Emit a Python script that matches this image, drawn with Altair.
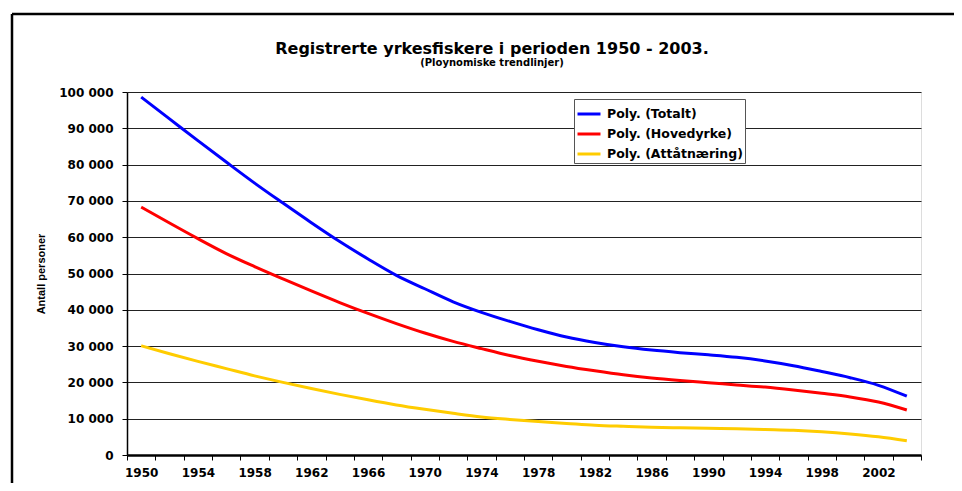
import altair as alt
import pandas as pd

# ---- data (polynomial trend lines, every 2nd year) ----
years = list(range(1950, 2005, 2))
totalt = [98.6, 92.6, 86.6, 80.7, 74.9, 69.4, 64.0, 58.8, 54.0, 49.5, 45.8, 42.2, 39.3, 36.8,
          34.5, 32.5, 31.0, 29.8, 28.9, 28.2, 27.6, 26.9, 25.9, 24.6, 23.0, 21.3, 19.2, 16.2]
hovedyrke = [68.3, 63.9, 59.6, 55.5, 51.9, 48.5, 45.2, 42.0, 39.0, 36.2, 33.6, 31.3, 29.3, 27.4,
             25.8, 24.4, 23.2, 22.1, 21.2, 20.5, 19.9, 19.3, 18.7, 17.9, 17.0, 16.0, 14.6, 12.4]
attaatnaering = [30.1, 27.9, 25.8, 23.8, 21.8, 20.0, 18.3, 16.7, 15.2, 13.8, 12.6, 11.5, 10.5, 9.8,
                 9.2, 8.7, 8.2, 7.9, 7.65, 7.5, 7.35, 7.2, 7.0, 6.8, 6.4, 5.8, 5.0, 3.9]
series_labels = ["Poly. (Totalt)", "Poly. (Hovedyrke)", "Poly. (Attåtnæring)"]
series_colors = ["#0000FF", "#FF0000", "#FFCC00"]
y_ticks = list(range(0, 100001, 10000))
x_tick_years = list(range(1949, 2006))
title_text = "Registrerte yrkesfiskere i perioden 1950 - 2003."
subtitle_text = "(Ploynomiske trendlinjer)"

rows = []
for label, vals in zip(series_labels, [totalt, hovedyrke, attaatnaering]):
    for yr, v in zip(years, vals):
        rows.append({"year": yr, "value": v * 1000, "serie": label})
df = pd.DataFrame(rows)

FONT = "DejaVu Sans"

lines = alt.Chart(df).mark_line(strokeWidth=3, interpolate="monotone").encode(
    x=alt.X("year:Q",
            scale=alt.Scale(domain=[1949, 2005], nice=False, zero=False),
            axis=alt.Axis(
                values=x_tick_years, title=None, grid=False,
                labelExpr="((datum.value - 1950) % 4 == 0 && datum.value <= 2002) ? '' + datum.value : ''",
                tickOpacity={"condition": {"test": "datum.value % 2 == 1", "value": 1}, "value": 0},
                tickSize=5, tickColor="#000", tickWidth=1,
                labelFont=FONT, labelFontSize=12, labelFontWeight="bold", labelColor="#000",
                labelPadding=7, labelOverlap=False, labelFlush=False, labelBound=False,
                domainColor="#000", domainWidth=2.5)),
    y=alt.Y("value:Q",
            scale=alt.Scale(domain=[0, 100000], nice=False),
            axis=alt.Axis(
                values=y_ticks, title="Antall personer",
                labelExpr="datum.value >= 1000 ? floor(datum.value / 1000) + ' 000' : '0'",
                tickSize=5, tickColor="#000", tickWidth=1,
                labelFont=FONT, labelFontSize=12, labelFontWeight="bold", labelColor="#000",
                labelPadding=9,
                titleFont="Liberation Sans", titleFontSize=11, titleFontWeight="bold",
                titleColor="#000", titlePadding=12,
                grid=True, gridColor="#222", gridWidth=1,
                domainColor="#000", domainWidth=1.5)),
    color=alt.Color("serie:N",
                    scale=alt.Scale(domain=series_labels, range=series_colors),
                    sort=series_labels,
                    legend=alt.Legend(
                        title=None, orient="none", legendX=447, legendY=7,
                        symbolType="stroke", symbolSize=529, symbolStrokeWidth=3,
                        rowPadding=-9, labelOffset=5,
                        labelFont=FONT, labelFontSize=12.5, labelFontWeight="bold",
                        labelColor="#000",
                        strokeColor="#555", fillColor="#FFFFFF", padding=2)),
)

one = pd.DataFrame({"k": [0]})
top_border = alt.Chart(one).mark_rule(color="#000", strokeWidth=2.5).encode(
    x=alt.value(-115), x2=alt.value(830), y=alt.value(-78))
left_border = alt.Chart(one).mark_rule(color="#000", strokeWidth=2.5).encode(
    x=alt.value(-115), y=alt.value(-78), y2=alt.value(400))
title_mark = alt.Chart(one).mark_text(
    font=FONT, fontSize=16, fontWeight="bold", color="#000", align="center", baseline="alphabetic"
).encode(x=alt.value(365), y=alt.value(-38), text=alt.value(title_text))
subtitle_mark = alt.Chart(one).mark_text(
    font=FONT, fontSize=10, fontWeight="bold", color="#000", align="center", baseline="alphabetic"
).encode(x=alt.value(365), y=alt.value(-26), text=alt.value(subtitle_text))

chart = alt.layer(lines, top_border, left_border, title_mark, subtitle_mark).properties(
    width=794, height=363,
    autosize=alt.AutoSizeParams(type="none"),
    padding={"left": 119, "top": 84, "right": 33, "bottom": 28},
).configure_view(stroke="#333", strokeWidth=1).configure(background="#FFFFFF")

chart.save("out.html", embed_options={"renderer": "svg", "actions": False})
